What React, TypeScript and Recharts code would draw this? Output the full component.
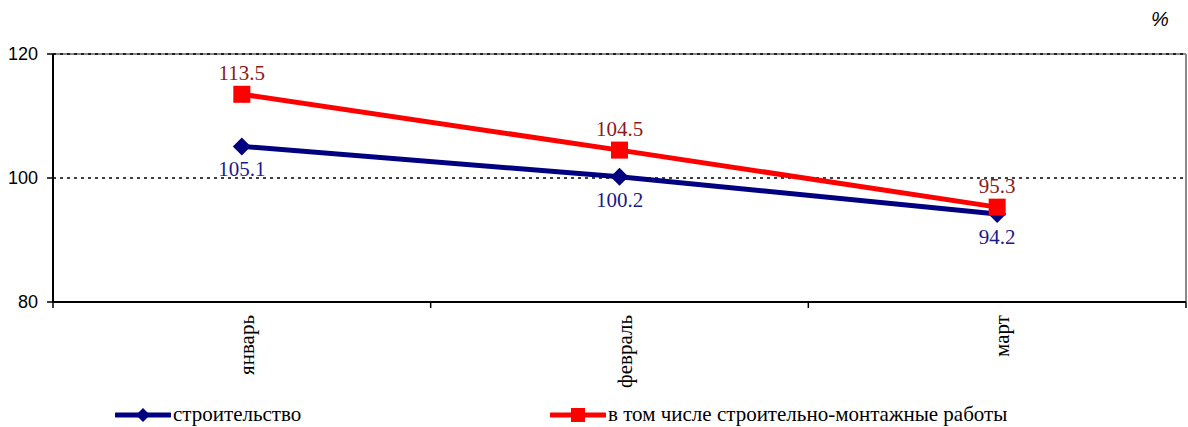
import React from "react";
import {
  LineChart,
  Line,
  XAxis,
  YAxis,
  LabelList,
  ReferenceLine,
} from "recharts";

const months = ["январь", "февраль", "март"];
const construction = [105.1, 100.2, 94.2];
const installation = [113.5, 104.5, 95.3];
const yTicks = [80, 100, 120];
const xTicks = [0, 0.5, 1, 1.5, 2, 2.5, 3];
const seriesNames = ["строительство", "в том числе строительно-монтажные работы"];

const data = months.map((m, i) => ({
  pos: i + 0.5,
  month: m,
  construction: construction[i],
  installation: installation[i],
}));

const BLUE = "#000080";
const RED = "#FF0000";
const BLUE_LABEL = "#1a1a8c";
const RED_LABEL = "#8B1A1A";
const SERIF = "'Liberation Serif', serif";
const SANS = "'Liberation Sans', Arial, sans-serif";

const Diamond = (props: any) => {
  const { cx, cy } = props;
  if (cx == null || cy == null) return null;
  const r = 9;
  return (
    <path
      d={`M${cx},${cy - r} L${cx + r},${cy} L${cx},${cy + r} L${cx - r},${cy} Z`}
      fill={BLUE}
    />
  );
};

const Square = (props: any) => {
  const { cx, cy } = props;
  if (cx == null || cy == null) return null;
  const s = 17;
  return <rect x={cx - s / 2} y={cy - s / 2} width={s} height={s} fill={RED} />;
};

const XTick = (props: any) => {
  const { x, y, payload } = props;
  const v = payload.value;
  if (Number.isInteger(v)) {
    return <line x1={x} y1={y} x2={x} y2={y + 6} stroke="#000" strokeWidth={1.5} />;
  }
  const label = months[Math.floor(v)] ?? "";
  const y0 = y + 13;
  const xx = x + 5;
  return (
    <text
      x={xx}
      y={y0}
      transform={`rotate(-90, ${xx}, ${y0})`}
      textAnchor="end"
      dominantBaseline="central"
      fontFamily={SERIF}
      fontSize={21}
      fill="#000"
    >
      {label}
    </text>
  );
};

const YTick = (props: any) => {
  const { x, y, payload } = props;
  return (
    <g>
      <line x1={x - 6} y1={y} x2={x} y2={y} stroke="#000" strokeWidth={1.5} />
      <text
        x={x - 15}
        y={y}
        textAnchor="end"
        dominantBaseline="central"
        fontFamily={SANS}
        fontSize={18}
        fill="#000"
      >
        {payload.value}
      </text>
    </g>
  );
};

export default function App() {
  return (
    <div style={{ position: "absolute", left: 0, top: 0, width: 1188, height: 427, background: "#fff" }}>
      <div
        style={{
          position: "absolute",
          left: 1151,
          top: 8,
          fontFamily: SANS,
          fontStyle: "italic",
          fontSize: 20,
          color: "#000",
        }}
      >
        %
      </div>
      <LineChart
        width={1188}
        height={427}
        data={data}
        margin={{ top: 54, right: 2, bottom: 0, left: 0 }}
      >
        <XAxis
          xAxisId="x"
          dataKey="pos"
          type="number"
          domain={[0, 3]}
          ticks={xTicks}
          interval={0}
          height={125}
          tickSize={0}
          tickMargin={0}
          tickLine={false}
          stroke="#000"
          strokeWidth={2}
          tick={<XTick />}
        />
        <YAxis
          yAxisId="y"
          domain={[80, 120]}
          ticks={yTicks}
          interval={0}
          width={53}
          tickSize={0}
          tickMargin={0}
          tickLine={false}
          stroke="#000"
          strokeWidth={2}
          tick={<YTick />}
        />
        <ReferenceLine xAxisId="x" yAxisId="y" y={120} stroke="#8a8a8a" strokeWidth={2} />
        <ReferenceLine xAxisId="x" yAxisId="y" y={120} stroke="#000" strokeWidth={1.3} strokeDasharray="3 4" />
        <ReferenceLine xAxisId="x" yAxisId="y" y={100} stroke="#000" strokeWidth={1.3} strokeDasharray="3 4" />
        <ReferenceLine xAxisId="x" yAxisId="y" x={3} stroke="#8a8a8a" strokeWidth={2} />
        <ReferenceLine xAxisId="x" yAxisId="y" x={0} stroke="#000" strokeWidth={2} />
        <ReferenceLine xAxisId="x" yAxisId="y" y={80} stroke="#000" strokeWidth={2} />
        <Line
          xAxisId="x"
          yAxisId="y"
          type="linear"
          dataKey="construction"
          stroke={BLUE}
          strokeWidth={5}
          dot={<Diamond />}
          activeDot={false}
          isAnimationActive={false}
        >
          <LabelList
            dataKey="construction"
            position="bottom"
            offset={15}
            fill={BLUE_LABEL}
            fontFamily={SERIF}
            fontSize={21}
          />
        </Line>
        <Line
          xAxisId="x"
          yAxisId="y"
          type="linear"
          dataKey="installation"
          stroke={RED}
          strokeWidth={5}
          dot={<Square />}
          activeDot={false}
          isAnimationActive={false}
        >
          <LabelList
            dataKey="installation"
            position="top"
            offset={14}
            fill={RED_LABEL}
            fontFamily={SERIF}
            fontSize={21}
          />
        </Line>
      </LineChart>
      <div style={{ position: "absolute", left: 115, top: 402, display: "flex", alignItems: "center" }}>
        <svg width={56} height={24}>
          <line x1={1} y1={12} x2={55} y2={12} stroke={BLUE} strokeWidth={5} strokeLinecap="round" />
          <path d="M28,5 L35,12 L28,19 L21,12 Z" fill={BLUE} />
        </svg>
        <span style={{ fontFamily: SERIF, fontSize: 21, color: "#000", marginLeft: 2 }}>{seriesNames[0]}</span>
      </div>
      <div style={{ position: "absolute", left: 550, top: 402, display: "flex", alignItems: "center" }}>
        <svg width={56} height={24}>
          <line x1={1} y1={12} x2={55} y2={12} stroke={RED} strokeWidth={5} strokeLinecap="round" />
          <rect x={21} y={5} width={14} height={14} fill={RED} />
        </svg>
        <span style={{ fontFamily: SERIF, fontSize: 21, color: "#000", marginLeft: 2 }}>{seriesNames[1]}</span>
      </div>
    </div>
  );
}
